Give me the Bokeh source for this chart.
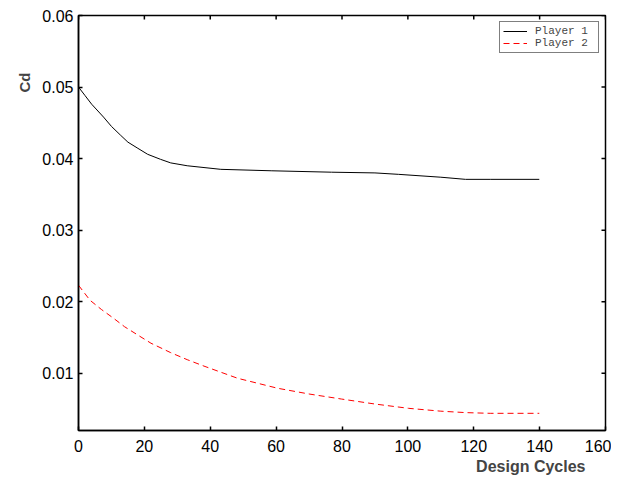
import numpy as np
from bokeh.plotting import figure
from bokeh.models import FixedTicker, Range1d, Title
from bokeh.embed import file_html
from bokeh.resources import INLINE

# Data
cycles_p1 = [0, 2, 4, 7.6, 10, 12.7, 15, 17.8, 21, 24.9, 28, 33, 43.2, 58.5, 76.8,
             90, 97.2, 110, 117.5, 125, 139.9]
cd_p1 = [0.0500, 0.0488, 0.0476, 0.0458, 0.0445, 0.0433, 0.0423, 0.0415, 0.0406,
         0.0399, 0.0394, 0.0390, 0.0385, 0.0383, 0.0381, 0.0380, 0.0378, 0.0374,
         0.0371, 0.0371, 0.0371]
cycles_p2 = [0, 3.5, 7, 10.6, 14, 17.8, 22, 27.9, 33, 38.1, 48.3, 60.5, 70, 79.8,
             90, 100.2, 110, 117.5, 125, 139.9]
cd_p2 = [0.0223, 0.0202, 0.0189, 0.0177, 0.0165, 0.0154, 0.0142, 0.0129, 0.0119,
         0.0110, 0.0093, 0.0079, 0.0071, 0.0064, 0.0057, 0.0051, 0.0047, 0.0045,
         0.0044, 0.0044]
x_ticks = [0, 20, 40, 60, 80, 100, 120, 140, 160]
y_ticks = [0.01, 0.02, 0.03, 0.04, 0.05, 0.06]
x_lim = [0, 160]
y_lim = [0.002, 0.06]

FONT = "Liberation Sans"

p = figure(frame_width=527, frame_height=415, output_backend="svg", toolbar_location=None,
           x_range=Range1d(*x_lim), y_range=Range1d(*y_lim),
           min_border_left=78, min_border_right=6, min_border_top=15, min_border_bottom=50)
p.background_fill_color = "white"
p.border_fill_color = "white"
p.grid.visible = False
p.outline_line_color = "black"
p.outline_line_width = 1.5

p.line(cycles_p1, cd_p1, line_color="black", line_width=1, legend_label="Player 1")
p.line(cycles_p2, cd_p2, line_color="#ff0000", line_width=1, line_dash="6 4",
       legend_label="Player 2")

# mirrored inward ticks on top and right edges (half of each dash is clipped by the frame)
p.scatter(x_ticks, [y_lim[1]] * len(x_ticks), marker="dash", angle=np.pi / 2, size=8,
          line_color="black", line_width=1.5)
p.scatter([x_lim[1]] * len(y_ticks), y_ticks, marker="dash", size=8,
          line_color="black", line_width=1.5)

for ax, ticks in ((p.xaxis[0], x_ticks), (p.yaxis[0], y_ticks)):
    ax.ticker = FixedTicker(ticks=ticks)
    ax.major_tick_in = 4
    ax.major_tick_out = 0
    ax.minor_tick_line_color = None
    ax.major_tick_line_color = "black"
    ax.major_tick_line_width = 1.5
    ax.axis_line_color = "black"
    ax.axis_line_width = 1.5
    ax.major_label_text_font = FONT
    ax.major_label_text_font_size = "16px"
    ax.major_label_text_color = "black"
p.xaxis[0].major_label_standoff = 9
p.yaxis[0].major_label_standoff = 5

p.add_layout(Title(text="Design Cycles", text_font=FONT, text_font_size="16px",
                   text_font_style="bold", align="right", offset=20, standoff=3), "below")
p.add_layout(Title(text="Cd", text_font=FONT, text_font_size="15px",
                   text_font_style="bold", align="right", offset=57, standoff=14), "left")

lg = p.legend[0]
lg.location = "top_right"
lg.margin = 6
lg.label_text_font = "Liberation Mono"
lg.label_text_font_size = "11px"
lg.glyph_width = 24
lg.glyph_height = 10
lg.label_height = 10
lg.label_width = 60
lg.spacing = 0
lg.padding = 3
lg.label_standoff = 8
lg.border_line_color = "black"
lg.border_line_width = 1
lg.background_fill_alpha = 1

open("out.html", "w").write(file_html(p, INLINE))
